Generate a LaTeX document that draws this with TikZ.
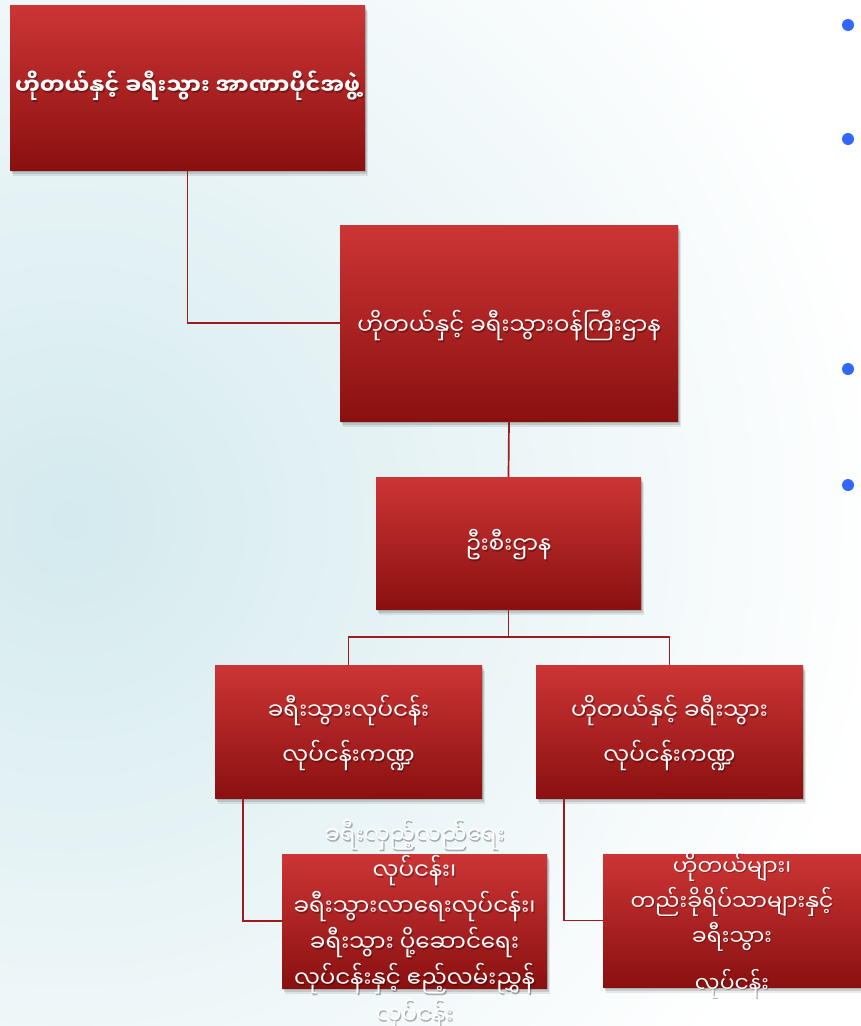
\documentclass[tikz,border=0pt]{standalone}
\usepackage{fontspec}
\newfontfamily\mya[Script=Myanmar]{Noto Sans Myanmar UI}
\usetikzlibrary{shadows}
\definecolor{boxtop}{HTML}{CD3535}
\definecolor{boxbot}{HTML}{8A1010}
\definecolor{linkc}{HTML}{9A1C1C}
\definecolor{bulletc}{HTML}{3366FF}
\definecolor{glow}{HTML}{D4EAEE}
\tikzset{
  orgbox/.style={rectangle, top color=boxtop, bottom color=boxbot, draw=none, inner sep=0pt,
    drop shadow={shadow xshift=3pt, shadow yshift=-6pt, opacity=0.12, fill=black!70},
    drop shadow={shadow xshift=2pt, shadow yshift=-4pt, opacity=0.18, fill=black!70},
    drop shadow={shadow xshift=1pt, shadow yshift=-2pt, opacity=0.22, fill=black!70}},
  txt/.style={text=white, align=center, inner sep=0pt},
  txtsh/.style={txt, text=black, text opacity=0.3, xshift=1.2pt, yshift=-1.8pt},
  conn/.style={draw=linkc, line width=1.7pt},
  bul/.style={circle, fill=bulletc, inner sep=0pt, minimum size=12pt}
}
\newcommand\shtext[4]{%
  \node[txtsh,#1] (#2s) at (#3) {#4};
  \node[txt,#1] (#2) at (#3) {#4};}
\begin{document}
\begin{tikzpicture}[x=1pt,y=-1pt]
\useasboundingbox (0,0) rectangle (860,1026);
\fill[white] (0,0) rectangle (860,1026);
\begin{scope}
\clip (0,0) rectangle (860,1026);
\shade[inner color=glow, outer color=white] (70,520) circle (820);
\end{scope}
% boxes
\node[orgbox, minimum width=355pt, minimum height=165pt] (b1) at (187.5,87.5) {};
\node[orgbox, minimum width=338pt, minimum height=196pt] (b2) at (509,323) {};
\node[orgbox, minimum width=265pt, minimum height=132pt] (b3) at (508.5,543) {};
\node[orgbox, minimum width=267pt, minimum height=133pt] (b4) at (348.5,731.5) {};
\node[orgbox, minimum width=267pt, minimum height=133pt] (b5) at (669.5,731.5) {};
\node[orgbox, minimum width=265pt, minimum height=134pt] (b6) at (414.5,921) {};
\node[orgbox, minimum width=267pt, minimum height=133pt] (b7) at (736.5,920.5) {};
% connectors
\draw[conn] (b1.south) |- (b2.west);
\draw[conn] (b2.south) -- (b3.north);
\coordinate (hub) at ([yshift=-28pt]b3.south);
\draw[conn] (b3.south) -- (hub) -| (b4.north);
\draw[conn] (hub) -| (b5.north);
\draw[conn] ([xshift=28pt]b4.south west) |- (b6.west);
\draw[conn] ([xshift=28pt]b5.south west) |- (b7.west);
% texts
\shtext{font=\mya\bfseries\fontsize{22.3}{26}\selectfont}{t1}{187.5,86}{ဟိုတယ်နှင့် ခရီးသွား အာဏာပိုင်အဖွဲ့}
\shtext{font=\mya\fontsize{23}{26}\selectfont}{t2}{509,326}{ဟိုတယ်နှင့် ခရီးသွားဝန်ကြီးဌာန}
\shtext{font=\mya\fontsize{23}{26}\selectfont}{t3}{508.5,545}{ဦးစီးဌာန}
\shtext{font=\mya\fontsize{23}{45}\selectfont}{t4}{348.5,733}{ခရီးသွားလုပ်ငန်း\\လုပ်ငန်းကဏ္ဍ}
\shtext{font=\mya\fontsize{23}{45}\selectfont}{t5}{669.5,733}{ဟိုတယ်နှင့် ခရီးသွား\\လုပ်ငန်းကဏ္ဍ}
\shtext{font=\mya\fontsize{23}{36}\selectfont}{t6}{414.5,925}{ခရီးလှည့်လည်ရေး\\လုပ်ငန်း၊\\ခရီးသွားလာရေးလုပ်ငန်း၊\\ခရီးသွား ပို့ဆောင်ရေး\\လုပ်ငန်းနှင့် ဧည့်လမ်းညွှန်\\လုပ်ငန်း}
\shtext{font=\mya\fontsize{22}{35}\selectfont}{t7}{732,925}{ဟိုတယ်များ၊\\တည်းခိုရိပ်သာများနှင့်\\ခရီးသွား\\[12pt]လုပ်ငန်း}
% bullets
\node[bul] (d1) at (848,25) {};
\node[bul] (d2) at (848,139) {};
\node[bul] (d3) at (848,369) {};
\node[bul] (d4) at (848,485) {};
\end{tikzpicture}
\end{document}
